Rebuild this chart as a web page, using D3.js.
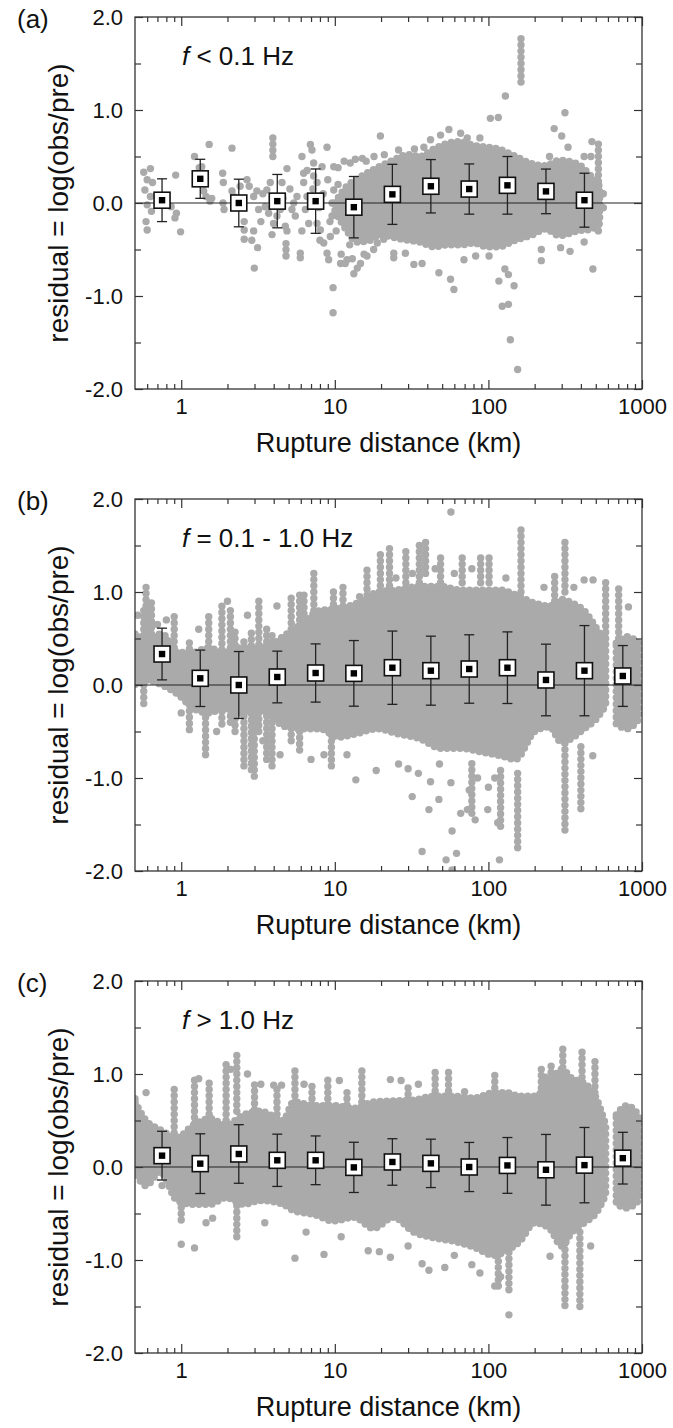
<!DOCTYPE html>
<html lang="en">
<head>
<meta charset="UTF-8"/>
<title>Residual vs rupture distance</title>
<script src="https://d3js.org/d3.v7.min.js"></script>
<style>
body { margin: 0; background: #fff; }
svg text { font-family: "Liberation Sans", Arial, sans-serif; fill: #111; }
</style>
</head>
<body>
<script>
    // ---- data ----
    // bin centres (km), shared by all three panels
    var binDist = [0.75, 1.33, 2.37, 4.22, 7.5, 13.3, 23.7, 42.2, 75, 133, 237, 422, 750];

    var xTicks = [1, 10, 100, 1000];
    var yTicks = [-2, -1, 0, 1, 2];
    var panelNames = ["(a)", "(b)", "(c)"];
    var freqText = [" < 0.1 Hz", " = 0.1 - 1.0 Hz", " > 1.0 Hz"];

    // (a) f < 0.1 Hz
    var meanA = [0.03, 0.26, 0.0, 0.02, 0.02, -0.045, 0.093, 0.18, 0.15, 0.19, 0.125, 0.03];
    var sdA   = [0.23, 0.21, 0.256, 0.287, 0.346, 0.33, 0.323, 0.287, 0.27, 0.31, 0.24, 0.29];
    var cloudDistA = [10, 12, 14, 17, 20, 24, 30, 36, 44, 54, 66, 80, 98, 116, 150, 194, 235, 290, 380, 470, 530];
    var cloudHiA   = [0.0, 0.18, 0.26, 0.34, 0.4, 0.46, 0.52, 0.5, 0.58, 0.64, 0.66, 0.62, 0.6, 0.58, 0.5, 0.42, 0.4, 0.46, 0.42, 0.28, 0.18];
    var cloudLoA   = [-0.08, -0.3, -0.42, -0.4, -0.34, -0.37, -0.4, -0.42, -0.47, -0.45, -0.45, -0.43, -0.47, -0.47, -0.4, -0.34, -0.28, -0.35, -0.3, -0.28, -0.22];
    var streaksA = [[163, 1.3, 1.78], [3.95, 0.5, 0.72], [4.81, -0.57, -0.39], [520, -0.3, 0.66]];
    var dotsA = [
        [0.57,0.33],[0.63,0.37],[0.6,0.25],[0.65,0.22],[0.58,0.14],[0.63,0.07],[0.6,-0.02],[0.64,-0.09],[0.59,-0.2],[0.6,-0.29],
        [0.92,0.3],[0.86,-0.04],[0.93,-0.11],[0.91,-0.16],[0.99,-0.31],
        [1.22,0.5],[1.31,0.38],[1.36,0.39],[1.52,0.63],[1.45,0.07],[1.54,0.02],[1.58,0.05],[1.4,0.13],
        [1.86,0.32],[2.14,0.59],[1.88,0.22],[2.14,0.13],[1.87,0],[1.9,-0.07],[2.19,0.07],[2.42,0.18],
        [2.57,-0.2],[2.68,0.25],[2.77,0.18],[2.57,-0.29],[2.57,-0.39],[2.96,-0.3],[2.99,-0.7],[3.14,-0.48],[2.88,-0.4],[2.96,0.07],[3.11,0.13],[3.19,-0.07],
        [3.52,-0.04],[3.71,-0.11],[3.9,-0.34],[3.61,0.14],[3.8,0.22],[4.2,-0.14],[4.42,-0.07],[3.99,-0.22],[4.76,-0.25],[4.53,0.22],[4.88,0.37],
        [4.88,-0.3],[5.26,-0.07],[5.4,0],[5.67,0.07],[5.53,-0.14],[5.1,0.15],[4.6,0.05],[3.4,0.1],[3.3,-0.2],
        [5.96,-0.59],[5.96,-0.54],[6.11,0.5],[6.27,0.32],[6.27,0.22],[6.59,0.07],[6.43,-0.07],[6.76,-0.22],[6.1,-0.3],[6.6,0.35],
        [6.93,0.63],[7.1,0.57],[7.28,0.43],[7.28,0.29],[7.66,-0.22],[8.05,-0.29],[7.66,0.22],[8.26,0.39],[7.9,-0.05],[8.4,0.1],[7.2,0.15],[8.0,-0.4],
        [8.9,0.6],[8.9,-0.54],[9.12,-0.61],[8.47,-0.43],[9.35,-0.36],[9.59,-0.14],[9.84,0.14],[9.84,0.39],[9.74,-0.91],[9.74,-1.18],
        [9.0,0.25],[9.3,-0.2],[10.2,-0.3],[10.5,0.2],[11.2,-0.15],[11.8,0.1],[12.5,-0.45],[9.6,0.0],
        [10.9,-0.65],[11.7,-0.65],[12,-0.61],[13.3,-0.76],[14,-0.7],[14.7,-0.65],[12.6,0.43],[13.6,0.47],[15.1,0.48],[16.2,-0.57],[17.9,-0.5],
        [10.5,0.38],[11.5,0.45],[16,0.45],[18,0.5],[21,0.52],[26,0.57],[33,0.58],[38,0.6],[11,-0.55],[13,-0.6],[15.5,-0.55],
        [19.8,0.72],[18.9,-0.43],[20.8,-0.39],[24.2,-0.59],[24.2,-0.54],[28.8,-0.54],[32.7,-0.66],[37,-0.65],[47.6,-0.75],[56.7,-0.82],[59.6,-0.93],
        [69.3,-0.61],[82.6,-0.57],[101,-0.57],[117,-0.84],[123,-1.11],[103,0.91],[116,0.92],[129,1.15],
        [48.8,0.73],[55.3,0.79],[65.9,0.75],[72.8,0.7],[42,0.68],[88,0.7],
        [315,0.97],[268,0.8],[300,0.72],[472,0.66],[465,0.5],[128,-0.71],[135,-0.77],[147,-0.89],[135,-1.09],[139,-1.47],[155,-1.79],
        [221,-0.62],[221,-0.5],[479,-0.71],[295,-0.48],[340,-0.52],[250,0.5],[330,0.6],[420,0.5],[420,-0.42],[560,-0.05],[560,0.1]
    ];

    // (b) f = 0.1 - 1.0 Hz
    var meanB = [0.333, 0.072, 0.0, 0.086, 0.129, 0.125, 0.186, 0.154, 0.172, 0.186, 0.054, 0.154, 0.097];
    var sdB   = [0.278, 0.303, 0.36, 0.278, 0.313, 0.353, 0.394, 0.371, 0.368, 0.385, 0.385, 0.485, 0.327];
    var cloudDistB = [0.5, 0.6, 0.75, 0.95, 1.2, 1.5, 1.9, 2.4, 3.0, 3.7, 4.6, 6.1, 8.0, 10.5, 14, 19, 25, 36, 49, 66, 90, 120, 150, 200, 250, 300, 350, 420, 500, 580, 620, 680, 800, 950];
    var cloudHiB   = [0.55, 0.5, 0.55, 0.35, 0.35, 0.4, 0.35, 0.4, 0.4, 0.42, 0.52, 0.66, 0.8, 0.82, 0.88, 1.0, 1.02, 1.06, 1.06, 1.02, 1.02, 1.02, 0.97, 0.88, 0.85, 0.92, 0.88, 0.8, 0.62, 0.45, null, 0.45, 0.52, 0.45];
    var cloudLoB   = [0.0, 0.05, 0.0, -0.1, -0.25, -0.3, -0.25, -0.3, -0.25, -0.3, -0.44, -0.47, -0.47, -0.56, -0.52, -0.47, -0.52, -0.58, -0.68, -0.68, -0.72, -0.76, -0.8, -0.5, -0.45, -0.62, -0.57, -0.47, -0.37, -0.22, null, -0.42, -0.47, -0.37];
    var streaksB = [
        [0.59,0.45,1.1],[0.57,-0.2,0.85],[0.64,0.55,0.92],[0.9,0.2,0.75],[1.13,-0.48,0.5],[1.44,-0.75,0.3],[1.51,-0.2,0.74],
        [1.84,-0.42,0.88],[2.09,-0.4,0.83],[2.24,-0.5,0.6],[2.56,-0.87,0.5],[2.86,-0.91,0.6],[2.99,-0.98,0.3],[3.2,-0.5,0.95],
        [3.6,-0.8,0.6],[3.9,-0.87,0.55],[5.2,-0.6,0.97],[5.9,-0.7,1.0],[6.3,0.5,1.0],[7.3,0.8,1.23],[9.5,-0.87,-0.5],[9.8,0.8,1.05],
        [11.3,0.85,1.05],[16.2,0.9,1.28],[19.8,1.0,1.42],[22.7,1.0,1.52],[29,1.1,1.46],[35.5,1.1,1.53],[39,1.2,1.58],[48.8,1.1,1.42],
        [67.5,1.1,1.42],[89,1.1,1.38],[101,1.1,1.42],[163,1.0,1.72],[315,1.0,1.6],[315,-1.56,-0.6],[270,0.9,1.2],[400,-1.33,-0.6],
        [580,0.5,1.13],[705,0.5,1.06],[155,-1.75,-0.9],[120,-1.52,-0.9],[78,-1.38,-0.8]
    ];
    var dotsB = [
        [57,1.86],[31.9,-1.2],[41,-1.34],[47.6,-1.23],[57,-1.05],[58,-1.57],[37,-1.79],[62,-1.81],[53,-1.88],[58,-1.99],[75,-1.13],[73,-1.34],
        [99,-1.34],[115,-1.48],[118,-1.88],[66,-1.38],[82,-1.45],[42,-1.04],[18.6,-0.92],[13.7,-1.02],[26,-0.85],[30,-0.9],[35,-0.95],
        [48,-0.85],[85,-1.0],[100,-1.1],[110,-1.0],[478,-0.76],[816,0.84],[420,1.13],[480,1.13],
        [0.52,0.75],[0.7,0.65],[0.8,0.7],[1.0,-0.3],[1.3,0.6],[1.7,-0.5],[2.0,0.9],[2.7,0.75],[3.4,-0.6],[4.2,0.85],[4.4,-0.75],
        [7.0,-0.8],[8.5,-0.75],[12,-0.75],[14.5,0.95],[25,1.15],[32,1.2],[45,1.25],[60,1.2],[78,1.25],[130,1.15],[230,1.05],[360,1.05]
    ];

    // (c) f > 1.0 Hz
    var meanC = [0.122, 0.036, 0.14, 0.072, 0.072, -0.004, 0.054, 0.039, 0.0, 0.017, -0.03, 0.02, 0.095];
    var sdC   = [0.262, 0.321, 0.315, 0.281, 0.262, 0.27, 0.25, 0.26, 0.264, 0.30, 0.38, 0.405, 0.278];
    var cloudDistC = [0.5, 0.59, 0.73, 0.94, 1.2, 1.54, 1.95, 2.55, 3.27, 4.6, 5.4, 7.3, 9.8, 13.3, 17.9, 24, 32.7, 44, 60, 80, 109, 130, 160, 200, 250, 300, 350, 420, 500, 580, 620, 680, 800, 950];
    var cloudHiC   = [0.7, 0.5, 0.4, 0.32, 0.45, 0.52, 0.45, 0.56, 0.6, 0.5, 0.7, 0.66, 0.66, 0.63, 0.7, 0.71, 0.72, 0.76, 0.76, 0.74, 0.8, 0.8, 0.76, 0.76, 0.9, 1.05, 0.95, 0.9, 0.75, 0.45, null, 0.56, 0.66, 0.56];
    var cloudLoC   = [-0.05, -0.2, -0.05, -0.36, -0.4, -0.4, -0.33, -0.4, -0.36, -0.4, -0.47, -0.51, -0.58, -0.54, -0.66, -0.54, -0.7, -0.76, -0.8, -0.86, -0.95, -0.9, -0.8, -0.6, -0.66, -0.85, -0.7, -0.6, -0.5, -0.3, null, -0.4, -0.44, -0.36];
    var streaksC = [
        [0.5,0.6,0.8],[0.9,0.3,0.89],[1.22,0.4,0.99],[1.52,0.5,0.95],[1.96,0.5,1.13],[2.3,0.6,1.23],[5.5,0.7,1.09],[7.1,0.6,0.89],
        [15,0.7,1.04],[45,0.75,1.04],[55,0.75,1.02],[110,0.85,1.0],[235,0.9,1.01],[256,0.95,1.15],[305,1.0,1.28],[407,0.9,1.24],
        [494,0.8,1.14],[221,0.85,1.08],[315,-1.49,-0.8],[394,-1.5,-0.7],[136,-1.32,-0.9],[116,-1.28,-0.9],[2.3,-0.75,-0.4],[1.0,-0.57,-0.4],
        [3.0,0.55,0.9],[4.2,0.5,0.88],[9.0,0.6,0.95],[12,0.6,0.85],[30,0.65,0.9]
    ];
    var dotsC = [
        [0.59,0.8],[1.0,-0.83],[1.22,-0.87],[1.45,-0.6],[5.5,-0.98],[8.5,-0.94],[16.5,-0.9],[19.5,-0.91],[23,-0.97],[37,-1.04],[41,-1.11],
        [52,-1.08],[78,-1.05],[88,-1.14],[110,-1.28],[120,-1.18],[136,-1.59],[252,-0.96],[463,-0.85],[10.7,0.93],[23,0.94],[27,0.93],
        [35,0.89],[70,0.81],[1.3,0.95],[2.1,1.05],[3.3,0.89],[4.0,0.88],[4.5,0.88],[6.3,0.89],[2.7,1.0],
        [0.75,-0.2],[1.6,-0.55],[3.5,-0.6],[6.5,-0.7],[11,-0.75],[30,-0.85],[60,-0.95]
    ];

    // ---- layout ----
    var w = 673, h = 1428;
    var plotLeft = 135, plotRight = 642, plotH = 372;
    var panelTop = [17, 499, 981];
    var dotColour = "#aaaaaa";
    var dotR = 3.7;

    function toRows(dist, hi, lo) {
        return dist.map(function(d, i) { return {dist: d, hi: hi[i], lo: lo[i]}; });
    }

    var panels = [
        {mean: meanA, sd: sdA, cloud: toRows(cloudDistA, cloudHiA, cloudLoA), streaks: streaksA, dots: dotsA},
        {mean: meanB, sd: sdB, cloud: toRows(cloudDistB, cloudHiB, cloudLoB), streaks: streaksB, dots: dotsB},
        {mean: meanC, sd: sdC, cloud: toRows(cloudDistC, cloudHiC, cloudLoC), streaks: streaksC, dots: dotsC}
    ];

    var x = d3.scaleLog().domain([0.5, 1000]).range([plotLeft, plotRight]);

    var minorX = [];
    [0.1, 1, 10, 100].forEach(function(dec) {
        for (var k = 2; k <= 9; k++) {
            var v = dec * k;
            if (v > 0.5 && v < 1000) minorX.push(v);
        }
    });

    var svg = d3.select("body").append("svg")
        .attr("width", w)
        .attr("height", h);

    panels.forEach(function(p, k) {
        var top = panelTop[k];
        var bottom = top + plotH;
        var y = d3.scaleLinear().domain([-2, 2]).range([bottom, top]);

        var g = svg.append("g");

        svg.append("clipPath").attr("id", "clip" + k)
            .append("rect")
            .attr("x", plotLeft).attr("y", top)
            .attr("width", plotRight - plotLeft).attr("height", plotH);

        var body = g.append("g").attr("clip-path", "url(#clip" + k + ")");

        // dense part of the scatter: filled envelope with a beaded (dotted) rim
        var area = d3.area()
            .defined(function(d) { return d.hi != null; })
            .x(function(d) { return x(d.dist); })
            .y0(function(d) { return y(d.lo); })
            .y1(function(d) { return y(d.hi); })
            .curve(d3.curveMonotoneX);

        body.append("path")
            .datum(p.cloud)
            .attr("d", area)
            .attr("fill", dotColour);

        body.append("path")
            .datum(p.cloud)
            .attr("d", area)
            .attr("fill", "none")
            .attr("stroke", dotColour)
            .attr("stroke-width", dotR * 2)
            .attr("stroke-linecap", "round")
            .attr("stroke-dasharray", "0 6.5");

        // vertical runs of stacked dots
        body.selectAll("line.streak")
            .data(p.streaks)
            .enter()
            .append("line")
            .attr("class", "streak")
            .attr("x1", function(d) { return x(d[0]); })
            .attr("x2", function(d) { return x(d[0]); })
            .attr("y1", function(d) { return y(d[1]); })
            .attr("y2", function(d) { return y(d[2]); })
            .attr("stroke", dotColour)
            .attr("stroke-width", dotR * 2)
            .attr("stroke-linecap", "round")
            .attr("stroke-dasharray", "0 6.2");

        // isolated dots
        body.selectAll("circle.dot")
            .data(p.dots)
            .enter()
            .append("circle")
            .attr("class", "dot")
            .attr("cx", function(d) { return x(d[0]); })
            .attr("cy", function(d) { return y(d[1]); })
            .attr("r", dotR)
            .attr("fill", dotColour);

        // zero line
        g.append("line")
            .attr("x1", plotLeft).attr("x2", plotRight)
            .attr("y1", y(0)).attr("y2", y(0))
            .attr("stroke", "#222")
            .attr("stroke-width", 1.2);

        // bin means with +/- 1 sd
        var bins = p.mean.map(function(m, i) { return {dist: binDist[i], mean: m, sd: p.sd[i]}; });
        var bg = g.selectAll("g.bin")
            .data(bins)
            .enter()
            .append("g")
            .attr("class", "bin")
            .attr("transform", function(d) { return "translate(" + x(d.dist) + ",0)"; });

        bg.append("line")
            .attr("y1", function(d) { return y(d.mean + d.sd); })
            .attr("y2", function(d) { return y(d.mean - d.sd); })
            .attr("stroke", "#222").attr("stroke-width", 1.3);
        bg.append("line")
            .attr("x1", -5).attr("x2", 5)
            .attr("y1", function(d) { return y(d.mean + d.sd); })
            .attr("y2", function(d) { return y(d.mean + d.sd); })
            .attr("stroke", "#222").attr("stroke-width", 1.3);
        bg.append("line")
            .attr("x1", -5).attr("x2", 5)
            .attr("y1", function(d) { return y(d.mean - d.sd); })
            .attr("y2", function(d) { return y(d.mean - d.sd); })
            .attr("stroke", "#222").attr("stroke-width", 1.3);
        bg.append("rect")
            .attr("x", -8).attr("width", 16).attr("height", 16)
            .attr("y", function(d) { return y(d.mean) - 8; })
            .attr("fill", "#fff")
            .attr("stroke", "#111")
            .attr("stroke-width", 1.6);
        bg.append("rect")
            .attr("x", -3.2).attr("width", 6.4).attr("height", 6.4)
            .attr("y", function(d) { return y(d.mean) - 3.2; })
            .attr("fill", "#000");

        // frame
        g.append("rect")
            .attr("x", plotLeft).attr("y", top)
            .attr("width", plotRight - plotLeft).attr("height", plotH)
            .attr("fill", "none")
            .attr("stroke", "#333")
            .attr("stroke-width", 1.3);

        // axes, ticks pointing inwards
        function styleAxis(sel) {
            sel.select(".domain").remove();
            sel.selectAll(".tick line").attr("stroke", "#333").attr("stroke-width", 1.2);
        }

        g.append("g")
            .attr("transform", "translate(" + plotLeft + ",0)")
            .call(d3.axisLeft(y).tickValues(yTicks).tickSize(-8).tickPadding(12)
                .tickFormat(function(d) { return d.toFixed(1); }))
            .call(styleAxis)
            .selectAll("text").attr("font-size", 22).attr("fill", "#111");
        g.append("g")
            .attr("transform", "translate(" + plotLeft + ",0)")
            .call(d3.axisLeft(y).tickValues([-1.5, -0.5, 0.5, 1.5]).tickSize(-6).tickFormat(""))
            .call(styleAxis);
        g.append("g")
            .attr("transform", "translate(" + plotRight + ",0)")
            .call(d3.axisRight(y).tickValues(yTicks).tickSize(-8).tickFormat(""))
            .call(styleAxis);
        g.append("g")
            .attr("transform", "translate(" + plotRight + ",0)")
            .call(d3.axisRight(y).tickValues([-1.5, -0.5, 0.5, 1.5]).tickSize(-6).tickFormat(""))
            .call(styleAxis);

        g.append("g")
            .attr("transform", "translate(0," + bottom + ")")
            .call(d3.axisBottom(x).tickValues(xTicks).tickSize(-9).tickPadding(9)
                .tickFormat(d3.format("d")))
            .call(styleAxis)
            .selectAll("text").attr("font-size", 22).attr("fill", "#111");
        g.append("g")
            .attr("transform", "translate(0," + bottom + ")")
            .call(d3.axisBottom(x).tickValues(minorX).tickSize(-5).tickFormat(""))
            .call(styleAxis);
        g.append("g")
            .attr("transform", "translate(0," + top + ")")
            .call(d3.axisTop(x).tickValues(xTicks).tickSize(-9).tickFormat(""))
            .call(styleAxis);
        g.append("g")
            .attr("transform", "translate(0," + top + ")")
            .call(d3.axisTop(x).tickValues(minorX).tickSize(-5).tickFormat(""))
            .call(styleAxis);

        // labels
        g.append("text")
            .attr("x", 17).attr("y", top + 11)
            .attr("font-size", 26)
            .text(panelNames[k]);

        var ft = g.append("text")
            .attr("x", 182).attr("y", top + 48)
            .attr("font-size", 26);
        ft.append("tspan").attr("font-style", "italic").text("f");
        ft.append("tspan").text(freqText[k]);

        g.append("text")
            .attr("x", (plotLeft + plotRight) / 2)
            .attr("y", bottom + 63)
            .attr("text-anchor", "middle")
            .attr("font-size", 27)
            .text("Rupture distance (km)");

        g.append("text")
            .attr("transform", "translate(68," + (top + plotH / 2) + ") rotate(-90)")
            .attr("text-anchor", "middle")
            .attr("font-size", 28)
            .text("residual = log(obs/pre)");
    });
</script>
</body>
</html>
